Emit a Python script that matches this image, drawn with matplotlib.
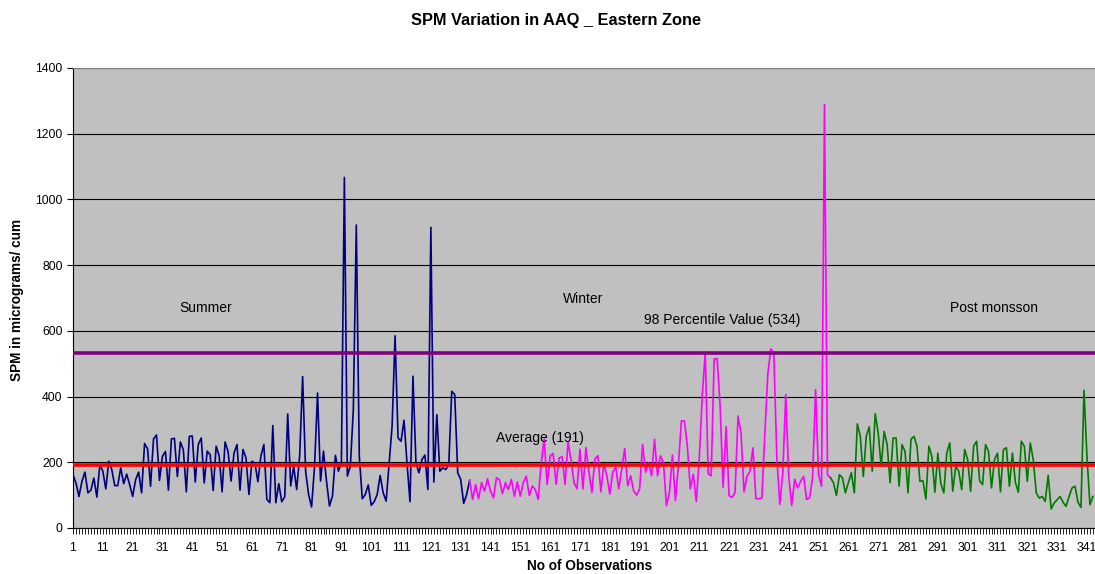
import matplotlib.pyplot as plt

plt.rcParams['font.family'] = ['Liberation Sans', 'DejaVu Sans']

# SPM readings (obs 1-133 summer, 134-254 winter, 255-343 post monsoon)
summer = [162, 137, 96, 142, 170, 107, 115, 152, 94, 193,
          173, 119, 203, 178, 129, 129, 183, 135, 164, 132,
          96, 147, 170, 107, 257, 241, 127, 271, 283, 145,
          218, 233, 115, 271, 273, 157, 262, 238, 110, 279,
          280, 140, 254, 274, 137, 234, 223, 114, 249, 220,
          110, 262, 233, 143, 228, 254, 115, 239, 214, 102,
          203, 198, 141, 219, 254, 87, 77, 312, 77, 135,
          80, 95, 347, 128, 188, 117, 219, 461, 173, 102,
          64, 188, 411, 143, 234, 143, 67, 97, 221, 173,
          198, 1067, 158, 188, 360, 922, 219, 89, 102, 131,
          69, 80, 102, 160, 107, 82, 198, 310, 585, 274,
          264, 328, 198, 80, 462, 198, 168, 208, 222, 117,
          915, 140, 345, 173, 183, 178, 193, 416, 406, 168,
          148, 75, 102]
winter = [145, 87, 132, 89, 138, 112, 150, 112, 92, 153,
          147, 104, 138, 117, 148, 97, 140, 97, 138, 158,
          99, 128, 117, 87, 198, 271, 133, 219, 227, 133,
          213, 217, 133, 261, 208, 138, 119, 240, 119, 245,
          170, 108, 210, 220, 110, 195, 159, 103, 170, 185,
          119, 180, 242, 129, 159, 113, 100, 119, 254, 170,
          199, 159, 270, 159, 220, 199, 68, 108, 222, 83,
          190, 326, 326, 250, 119, 164, 80, 210, 402, 534,
          164, 159, 514, 516, 372, 124, 308, 98, 93, 108,
          341, 290, 110, 157, 172, 244, 89, 89, 92, 289,
          471, 545, 532, 219, 72, 166, 406, 157, 69, 148,
          122, 142, 157, 87, 92, 153, 421, 162, 127, 1289,
          162]
post_monsoon = [153, 138, 99, 162, 153, 107, 138, 168, 107, 317,
                279, 157, 279, 308, 173, 348, 289, 188, 294, 254,
                138, 274, 274, 127, 254, 233, 107, 270, 279, 249,
                142, 144, 88, 249, 218, 109, 228, 135, 107, 228,
                259, 112, 188, 173, 117, 239, 208, 112, 249, 264,
                144, 132, 254, 233, 122, 208, 228, 110, 239, 244,
                127, 228, 139, 109, 264, 249, 142, 259, 208, 107,
                91, 96, 81, 160, 58, 76, 86, 96, 78, 66,
                96, 122, 127, 78, 63, 419, 218, 71, 96]
average = 191
percentile_98 = 534

n_sum = len(summer)
n_win = len(winter)
values = summer + winter + post_monsoon
obs = list(range(1, len(values) + 1))

fig = plt.figure(figsize=(10.95, 5.74), dpi=100)
ax = fig.add_axes([73 / 1095, 1 - 528 / 574, 1 - 73 / 1095, 460 / 574])
ax.set_facecolor('#C0C0C0')

# each season drawn as its own series, sharing the joining point
ax.plot(obs[:n_sum + 1], values[:n_sum + 1], color='#000080', lw=1.2)
ax.plot(obs[n_sum:n_sum + n_win + 1], values[n_sum:n_sum + n_win + 1], color='#FF00FF', lw=1.2)
ax.plot(obs[n_sum + n_win:], values[n_sum + n_win:], color='#007A00', lw=1.2)

ax.axhline(percentile_98, color='#800080', lw=2.6, zorder=3)
ax.axhline(average, color='#FF0000', lw=2.6, zorder=3)

ax.set_ylim(0, 1400)
ax.set_xlim(1, 343.7)
ax.set_yticks(range(0, 1401, 200))
ax.yaxis.grid(True, color='black', lw=0.8)
ax.set_axisbelow(True)

ax.set_xticks(range(1, 342, 10))
ax.set_xticks(obs, minor=True)
ax.tick_params(axis='x', which='both', length=4, width=0.6, labelsize=8.8, pad=6)
ax.tick_params(axis='y', length=4, width=0.8, labelsize=8.8)

for s in ['left', 'bottom']:
    ax.spines[s].set_color('black')
ax.spines['top'].set_color('#808080')
ax.spines['right'].set_visible(False)

txt = dict(fontsize=10, ha='center', va='center')
ax.text(45.6, 669, 'Summer', **txt)
ax.text(172, 697, 'Winter', **txt)
ax.text(218.6, 633, '98 Percentile Value (534)', **txt)
ax.text(310, 669, 'Post monsson', **txt)
ax.text(157.6, 274, 'Average (191)', **txt)

fig.text(556 / 1095, 1 - 20.5 / 574, 'SPM Variation in AAQ _ Eastern Zone', fontsize=11.8,
         fontweight='bold', ha='center', va='center')
fig.text(17 / 1095, 1 - 300 / 574, 'SPM in micrograms/ cum', fontsize=9.8,
         fontweight='bold', rotation=90, ha='center', va='center')
fig.text(590 / 1095, 1 - 566 / 574, 'No of Observations', fontsize=9.8,
         fontweight='bold', ha='center', va='center')

fig.savefig('out.png', dpi=100)
